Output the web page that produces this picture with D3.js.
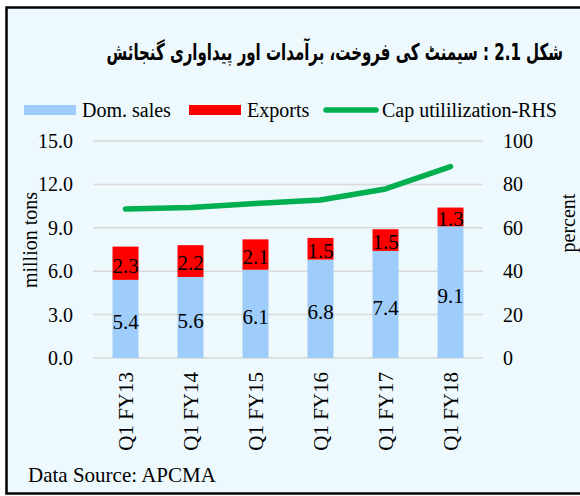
<!DOCTYPE html>
<html>
<head>
<meta charset="utf-8">
<script src="https://cdn.jsdelivr.net/npm/d3@7"></script>
<style>
  html, body { margin: 0; padding: 0; background: #ffffff; }
  svg { display: block; }
  text { font-family: "Liberation Serif", "Times New Roman", serif; fill: #000; }
</style>
</head>
<body>
<svg id="chart" width="580" height="496"></svg>
<script>
// ---- data ----
const categories = ["Q1 FY13", "Q1 FY14", "Q1 FY15", "Q1 FY16", "Q1 FY17", "Q1 FY18"];
const domSales = [5.4, 5.6, 6.1, 6.8, 7.4, 9.1];
const exportsVals = [2.3, 2.2, 2.1, 1.5, 1.5, 1.3];
const capUtil = [68.7, 69.4, 71.2, 72.8, 77.9, 88.2];
const leftTicks = [0, 3, 6, 9, 12, 15];
const rightTicks = [0, 20, 40, 60, 80, 100];
const seriesNames = ["Dom. sales", "Exports", "Cap utililization-RHS"];
const titleText = "شکل 2.1 : سیمنٹ کی فروخت، برآمدات اور پیداواری گنجائش";
const sourceText = "Data Source: APCMA";
const leftAxisTitle = "million tons";
const rightAxisTitle = "percent";

// ---- layout ----
const svg = d3.select("#chart");
const colors = { dom: "#9fcdfb", exp: "#ff0000", cap: "#00b050" };
const plot = { left: 93, right: 483, top: 141, bottom: 358 };

// frame
svg.append("rect").attr("x", 0).attr("y", 0).attr("width", 580).attr("height", 496).attr("fill", "#ffffff");
svg.append("rect")
  .attr("x", 6.5).attr("y", 7.5).attr("width", 580).attr("height", 486)
  .attr("fill", "#eef9fd").attr("stroke", "#000").attr("stroke-width", 2.5);

// scales
const x = d3.scaleBand().domain(categories).range([plot.left, plot.right]).paddingInner(0.6).paddingOuter(0.3);
const yL = d3.scaleLinear().domain([0, 15]).range([plot.bottom, plot.top]);
const yR = d3.scaleLinear().domain([0, 100]).range([plot.bottom, plot.top]);

// gridlines
svg.append("g").selectAll("line").data(leftTicks).join("line")
  .attr("x1", plot.left).attr("x2", plot.right)
  .attr("y1", d => yL(d)).attr("y2", d => yL(d))
  .attr("stroke", "#d9d9d9").attr("stroke-width", 1.5);

// left axis
const leftAxis = svg.append("g").attr("transform", `translate(${plot.left},0)`)
  .call(d3.axisLeft(yL).tickValues(leftTicks).tickFormat(d3.format(".1f")).tickSize(0).tickPadding(20));
leftAxis.select(".domain").remove();
leftAxis.selectAll("text").style("font-family", "Liberation Serif").style("font-size", "20px").attr("fill", "#000");

// right axis
const rightAxis = svg.append("g").attr("transform", `translate(${plot.right},0)`)
  .call(d3.axisRight(yR).tickValues(rightTicks).tickFormat(d3.format("d")).tickSize(0).tickPadding(20));
rightAxis.select(".domain").remove();
rightAxis.selectAll("text").style("font-family", "Liberation Serif").style("font-size", "20px").attr("fill", "#000");

// x axis labels
const xAxis = svg.append("g").attr("transform", `translate(0,${plot.bottom})`)
  .call(d3.axisBottom(x).tickSize(0));
xAxis.select(".domain").remove();
xAxis.selectAll("text")
  .style("font-family", "Liberation Serif").style("font-size", "21px").attr("fill", "#000")
  .attr("transform", "rotate(-90)")
  .attr("x", -14).attr("y", 0).attr("dy", "0.35em")
  .attr("text-anchor", "end");

// bars
const stacked = categories.map((c, i) => ({ c, dom: domSales[i], exp: exportsVals[i] }));
svg.append("g").selectAll("rect").data(stacked).join("rect")
  .attr("x", d => x(d.c)).attr("width", x.bandwidth())
  .attr("y", d => yL(d.dom)).attr("height", d => yL(0) - yL(d.dom))
  .attr("fill", colors.dom);
svg.append("g").selectAll("rect").data(stacked).join("rect")
  .attr("x", d => x(d.c)).attr("width", x.bandwidth())
  .attr("y", d => yL(d.dom + d.exp)).attr("height", d => yL(d.dom) - yL(d.dom + d.exp))
  .attr("fill", colors.exp);

// bar labels
const fmt = d3.format(".1f");
svg.append("g").selectAll("text").data(stacked).join("text")
  .attr("x", d => x(d.c) + x.bandwidth() / 2)
  .attr("y", d => yL(d.dom / 2) + 3)
  .attr("text-anchor", "middle").attr("dy", "0.35em")
  .style("font-size", "21px").text(d => fmt(d.dom));
svg.append("g").selectAll("text").data(stacked).join("text")
  .attr("x", d => x(d.c) + x.bandwidth() / 2)
  .attr("y", d => yL(d.dom + d.exp / 2) + 2)
  .attr("text-anchor", "middle").attr("dy", "0.35em")
  .style("font-size", "21px").text(d => fmt(d.exp));

// line
const line = d3.line()
  .x((d, i) => x(categories[i]) + x.bandwidth() / 2)
  .y(d => yR(d));
svg.append("path").datum(capUtil)
  .attr("d", line).attr("fill", "none")
  .attr("stroke", colors.cap).attr("stroke-width", 5.5)
  .attr("stroke-linecap", "round").attr("stroke-linejoin", "round");

// axis titles
svg.append("text")
  .attr("transform", "translate(30,240) rotate(-90)")
  .attr("text-anchor", "middle").attr("dy", "0.35em")
  .style("font-size", "20px").text(leftAxisTitle);
svg.append("text")
  .attr("transform", "translate(568,223) rotate(-90)")
  .attr("text-anchor", "middle").attr("dy", "0.35em")
  .style("font-size", "20px").text(rightAxisTitle);

// legend
const legendItems = [
  { name: seriesNames[0], color: colors.dom, type: "rect", x: 24 },
  { name: seriesNames[1], color: colors.exp, type: "rect", x: 189 },
  { name: seriesNames[2], color: colors.cap, type: "line", x: 324 }
];
const lg = svg.append("g");
legendItems.forEach(it => {
  if (it.type === "rect") {
    lg.append("rect").attr("x", it.x).attr("y", 105).attr("width", 52).attr("height", 10).attr("fill", it.color);
  } else {
    lg.append("line").attr("x1", it.x + 2).attr("x2", it.x + 52).attr("y1", 110).attr("y2", 110)
      .attr("stroke", it.color).attr("stroke-width", 5.5).attr("stroke-linecap", "round");
  }
  lg.append("text").attr("x", it.x + 58).attr("y", 117).style("font-size", "20px").text(it.name);
});

// title: larger font, compressed horizontally to span 106..563
const titleG = svg.append("g");
const title = titleG.append("text")
  .attr("x", 0).attr("y", 0)
  .attr("text-anchor", "start").attr("direction", "rtl")
  .style("font-family", "'DejaVu Sans', 'Noto Sans', sans-serif")
  .style("font-weight", "bold").style("font-size", "23px")
  .text(titleText);
const tw = title.node().getComputedTextLength();
const sx = 457 / tw;
titleG.attr("transform", `translate(563,60) scale(${sx.toFixed(4)},1)`);

// source
svg.append("text").attr("x", 28).attr("y", 482).style("font-size", "21px").text(sourceText);
</script>
</body>
</html>
